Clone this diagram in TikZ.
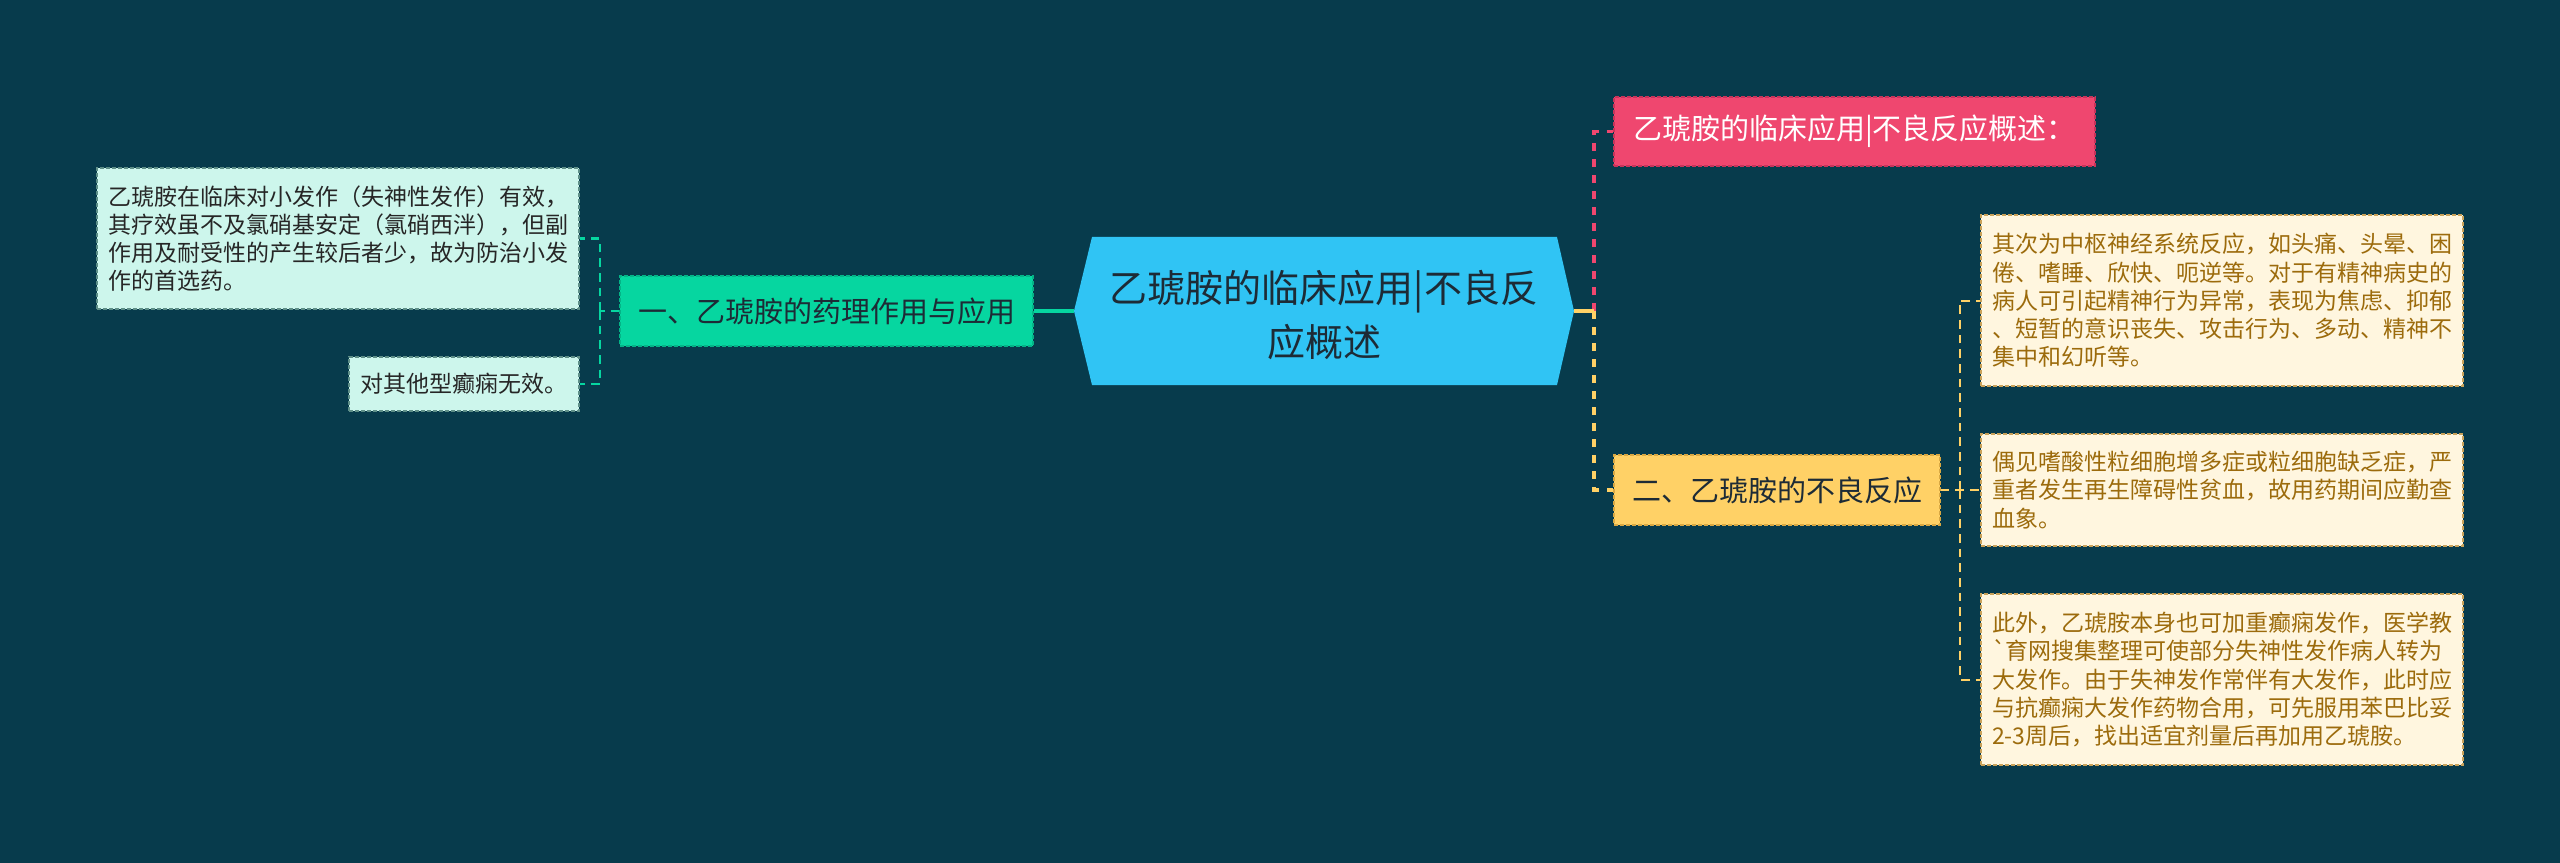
\documentclass[tikz,border=0pt]{standalone}
\usepackage{fontspec}
\newfontfamily\cjk{Noto Sans CJK SC}
\definecolor{bgc}{HTML}{073B4C}
\definecolor{cfill}{HTML}{30C4F4}
\definecolor{ctext}{HTML}{1D2B36}
\definecolor{gfill}{HTML}{06D6A0}
\definecolor{gline}{HTML}{04B487}
\definecolor{pfill}{HTML}{EF476F}
\definecolor{pline}{HTML}{C8335A}
\definecolor{yfill}{HTML}{FFD166}
\definecolor{yline}{HTML}{D9A843}
\definecolor{lfill}{HTML}{CDF6EC}
\definecolor{lline}{HTML}{5E8F88}
\definecolor{ltext}{HTML}{262626}
\definecolor{rfill}{HTML}{FFF6DF}
\definecolor{rline}{HTML}{C9A25A}
\definecolor{rtext}{HTML}{9C6B0C}
\tikzset{
  box/.style={inner sep=0pt, line width=1.1pt, dash pattern=on 3pt off 1.5pt},
  midfont/.style={font=\cjk\fontsize{21.75}{26}\selectfont},
  leaffont/.style={font=\cjk\fontsize{17.25}{21.2}\selectfont, align=left},
  greenbox/.style={box, draw=gline, fill=gfill, text=ctext, midfont},
  pinkbox/.style={box, draw=pline, fill=pfill, text=white, midfont},
  yellowbox/.style={box, draw=yline, fill=yfill, text=ctext, midfont},
  leftleaf/.style={box, draw=lline, fill=lfill, text=ltext, leaffont},
  rightleaf/.style={box, draw=rline, fill=rfill, text=rtext, leaffont},
  solidconn/.style={line width=2.6pt},
  mainconn/.style={line width=2.3pt, dash pattern=on 6pt off 6pt},
  leafconn/.style={line width=1.5pt, dash pattern=on 6.5pt off 4.5pt},
}
\begin{document}
\begin{tikzpicture}[x=0.75pt,y=-0.75pt]
\fill[bgc] (0,0) rectangle (2560,863);
\useasboundingbox (0,0) rectangle (2560,863);
% central hexagon
\fill[cfill] (1074,311) -- (1092,237) -- (1557,237) -- (1574,311) -- (1557,385) -- (1092,385) -- cycle;
\node[inner sep=0pt, minimum width=375pt, minimum height=111pt] (center) at (1324,311) {};
\node[text=ctext, align=center, inner sep=0pt, font=\cjk\fontsize{28.5}{40.5}\selectfont] (ctitle) at (1324,315) {乙琥胺的临床应用|不良反\\应概述};
% main branches
\node[greenbox, minimum width=309.75pt, minimum height=52.5pt] (green) at (826.5,311) {一、乙琥胺的药理作用与应用};
\node[pinkbox, minimum width=360.75pt, minimum height=51.75pt] (pink) at (1854.5,131.5) {乙琥胺的临床应用|不良反应概述：};
\node[yellowbox, minimum width=244.5pt, minimum height=52.5pt] (yellow) at (1777,490) {二、乙琥胺的不良反应};
% leaves left
\node[leftleaf, minimum width=361.5pt, minimum height=105.75pt] (l1) at (338,238.5) {乙琥胺在临床对小发作（失神性发作）有效，\\其疗效虽不及氯硝基安定（氯硝西泮），但副\\作用及耐受性的产生较后者少，故为防治小发\\作的首选药。};
\node[leftleaf, minimum width=172.5pt, minimum height=40.5pt] (l2) at (464,384) {对其他型癫痫无效。};
% leaves right
\node[rightleaf, minimum width=361.5pt, minimum height=128.25pt] (r1) at (2222,300.5) {其次为中枢神经系统反应，如头痛、头晕、困\\倦、嗜睡、欣快、呃逆等。对于有精神病史的\\病人可引起精神行为异常，表现为焦虑、抑郁\\、短暂的意识丧失、攻击行为、多动、精神不\\集中和幻听等。};
\node[rightleaf, minimum width=361.5pt, minimum height=84pt] (r2) at (2222,490) {偶见嗜酸性粒细胞增多症或粒细胞缺乏症，严\\重者发生再生障碍性贫血，故用药期间应勤查\\血象。};
\node[rightleaf, minimum width=361.5pt, minimum height=128.25pt] (r3) at (2222,679.5) {此外，乙琥胺本身也可加重癫痫发作，医学教\\\textasciigrave 育网搜集整理可使部分失神性发作病人转为\\大发作。由于失神发作常伴有大发作，此时应\\与抗癫痫大发作药物合用，可先服用苯巴比妥\\2-3周后，找出适宜剂量后再加用乙琥胺。};
% junctions
\coordinate (jL) at (600,311);
\coordinate (jR) at (1594,311);
\coordinate (jY) at (1960,490);
% connectors left
\draw[solidconn, gfill] (center.west) -- (green.east);
\draw[leafconn, gfill] (green.west) -- (jL);
\draw[leafconn, gfill] (jL) |- (l1.east);
\draw[leafconn, gfill] (jL) |- (l2.east);
% connectors right
\draw[mainconn, pfill] (jR) |- (pink.west);
\draw[mainconn, yfill] (jR) |- (yellow.west);
\draw[solidconn, yfill] (center.east) -- (jR);
\draw[leafconn, yfill] (yellow.east) -- (jY) -- (r2.west);
\draw[leafconn, yfill] (jY) |- (r1.west);
\draw[leafconn, yfill] (jY) |- (r3.west);
\end{tikzpicture}
\end{document}
